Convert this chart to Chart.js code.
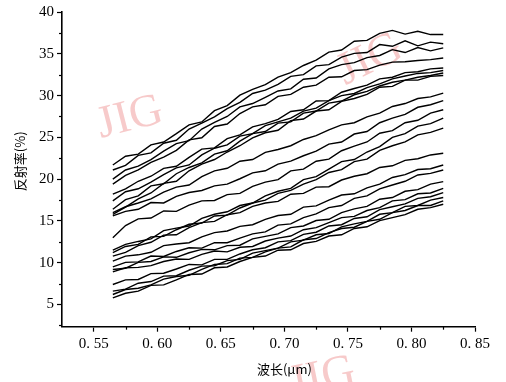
<!DOCTYPE html>
<html>
<head>
<meta charset="utf-8">
<script src="https://cdn.jsdelivr.net/npm/chart.js@4/dist/chart.umd.min.js"></script>
<style>
html,body{margin:0;padding:0;background:#fff;}
#wrap{width:506px;height:382px;}
</style>
</head>
<body>
<div id="wrap"><canvas id="c" width="506" height="382"></canvas></div>
<script>
const wavelengths = [0.565,0.575,0.585,0.595,0.605,0.615,0.625,0.635,0.645,0.655,0.665,0.675,0.685,0.695,0.705,0.715,0.725,0.735,0.745,0.755,0.765,0.775,0.785,0.795,0.805,0.815,0.825];
const xTicks = [0.55,0.60,0.65,0.70,0.75,0.80,0.85];
const yTicks = [5,10,15,20,25,30,35,40];

const s01 = [21.7,22.75,23.0,24.1,24.45,25.45,26.5,26.85,28.2,28.8,30.05,30.75,31.3,32.2,32.75,33.6,34.25,35.2,35.45,36.5,36.6,37.45,37.8,37.35,37.7,37.3,37.3];
const s02 = [21.1,21.65,22.85,23.15,24.3,24.65,26.0,26.7,27.45,28.45,29.2,30.25,30.65,31.35,32.3,32.5,33.55,33.7,34.6,35.05,35.15,36.1,35.9,36.55,35.95,36.4,36.2];
const s03 = [20.0,21.1,21.55,22.35,23.35,24.25,24.6,26.0,26.8,27.5,28.65,29.05,29.8,30.55,30.8,31.95,32.1,33.2,33.7,33.95,34.55,34.8,35.5,35.15,35.75,35.35,35.7];
const s04 = [19.4,20.45,21.1,22.0,22.65,23.45,24.7,24.95,26.3,26.6,27.85,28.65,28.9,29.9,30.15,31.0,31.25,32.2,32.25,33.0,33.1,33.65,34.0,34.05,34.2,34.3,34.5];
const s05 = [18.2,18.85,19.75,20.35,21.3,21.55,22.6,23.6,23.75,24.85,25.3,26.25,26.65,27.15,28.1,28.3,29.35,29.4,30.4,30.85,31.25,32.0,32.2,32.75,32.85,33.2,33.3];
const s06 = [17.4,18.5,18.85,19.65,20.55,21.35,21.7,22.9,23.7,24.1,25.15,25.45,26.4,26.85,27.3,28.15,28.5,29.4,30.0,30.25,30.95,31.4,32.0,32.35,32.65,32.75,33.0];
const s07 = [16.4,17.55,18.0,19.2,19.45,20.65,21.4,21.95,23.0,23.4,24.55,25.45,25.7,26.7,26.85,27.9,28.15,29.1,29.35,30.1,30.5,31.15,31.6,31.85,32.2,32.4,32.7];
const s08 = [15.8,16.65,17.65,18.35,19.5,19.75,21.0,21.8,22.35,23.25,24.0,24.95,25.55,25.85,27.0,27.2,28.15,28.3,29.3,29.65,30.15,31.0,31.1,31.85,31.85,32.3,32.4];
const s09 = [16.0,16.7,17.15,17.65,18.45,19.05,19.3,20.3,21.0,21.3,22.15,22.35,23.2,23.55,24.0,24.75,25.2,25.9,26.5,26.75,27.45,27.9,28.7,29.05,29.65,29.85,30.3];
const s10 = [15.6,16.15,16.4,17.2,17.15,17.95,18.4,18.65,19.2,19.4,20.05,20.75,21.0,21.8,22.15,22.8,23.35,24.2,24.45,25.4,25.7,26.75,27.3,27.75,28.6,28.9,29.4];
const s11 = [13.0,14.45,15.25,15.35,16.2,16.15,16.9,17.4,17.45,18.15,18.3,19.15,19.65,19.95,21.0,21.2,22.15,22.4,23.4,23.95,24.45,25.5,25.8,26.75,27.05,27.9,28.3];
const s12 = [11.5,12.2,12.55,12.85,13.85,14.15,14.4,15.3,15.8,16.1,16.85,17.15,18.0,18.55,18.9,19.95,20.3,21.2,22.1,22.35,23.25,23.9,25.0,25.45,26.35,26.65,27.3];
const s13 = [11.2,11.95,12.2,13.1,13.15,13.95,14.6,14.75,15.6,15.7,16.55,17.15,17.5,18.3,18.65,19.4,19.95,20.8,21.15,22.1,22.4,23.45,24.0,24.45,25.3,25.6,26.1];
const s14 = [10.8,11.25,12.05,12.45,13.3,13.35,14.2,14.8,14.95,15.75,16.0,16.75,17.15,17.35,18.2,18.3,19.05,19.1,19.9,20.35,20.65,21.4,21.6,22.25,22.45,22.9,23.1];
const s15 = [10.2,10.8,10.95,11.25,12.05,12.25,12.4,13.1,13.6,13.8,14.35,14.55,15.2,15.65,15.8,16.65,16.8,17.5,18.1,18.25,18.95,19.4,20.2,20.55,21.15,21.25,21.7];
const s16 = [9.5,10.05,10.1,10.8,10.75,11.35,11.8,11.75,12.4,12.4,12.95,13.45,13.7,14.5,14.65,15.4,15.85,16.6,16.85,17.7,18.0,18.85,19.3,19.75,20.5,20.7,21.1];
const s17 = [9.2,9.35,10.05,10.15,10.7,10.65,11.2,11.6,11.55,12.05,12.1,12.85,13.15,13.45,14.2,14.4,15.05,15.2,16.0,16.45,16.75,17.6,17.8,18.55,18.75,19.4,19.7];
const s18 = [8.9,9.4,9.45,9.65,10.15,10.45,10.4,11.0,11.4,11.3,11.85,11.95,12.6,12.95,13.2,13.95,14.2,14.8,15.4,15.55,16.25,16.6,17.4,17.55,18.25,18.35,18.9];
const s19 = [7.4,7.95,8.0,8.7,8.75,9.25,9.8,9.75,10.4,10.4,11.05,11.55,11.8,12.5,12.65,13.4,13.65,14.4,14.55,15.3,15.5,16.35,16.7,17.05,17.7,17.9,18.4];
const s20 = [6.6,6.85,7.55,7.75,8.4,8.45,9.1,9.6,9.65,10.25,10.4,11.15,11.45,11.75,12.5,12.7,13.35,13.5,14.3,14.65,14.95,15.8,16.0,16.75,16.85,17.5,17.8];
const s21 = [6.2,6.8,6.95,7.35,8.05,8.35,8.5,9.2,9.8,9.9,10.55,10.65,11.3,11.75,11.9,12.75,12.9,13.6,14.1,14.25,14.95,15.2,16.0,16.25,16.85,16.85,17.4];
const s22 = [5.8,6.35,6.6,7.3,7.35,7.95,8.6,8.65,9.4,9.5,10.15,10.65,10.8,11.5,11.55,12.3,12.55,13.2,13.35,14.1,14.3,15.05,15.4,15.75,16.4,16.6,17.0];

const allSeries = [s01,s02,s03,s04,s05,s06,s07,s08,s09,s10,s11,s12,s13,s14,s15,s16,s17,s18,s19,s20,s21,s22];

const xTitle = '波长(μm)';
const yTitle = '反射率(%)';
const watermark = 'JIG';

const datasets = allSeries.map(s => ({
  data: s.map((v, i) => ({x: wavelengths[i], y: v})),
  borderColor: '#000',
  borderWidth: 1.4,
  pointRadius: 0,
  fill: false,
  tension: 0
}));

const extras = {
  id: 'extras',
  beforeDatasetsDraw(chart) {
    const ctx = chart.ctx;
    ctx.save();
    ctx.fillStyle = 'rgba(240,150,150,0.5)';
    ctx.font = '46px "Liberation Serif"';
    ctx.textAlign = 'center';
    ctx.textBaseline = 'middle';
    const marks = [[130,118,-0.25],[370,60,-0.45],[322,378,-0.2]];
    marks.forEach(m => {
      ctx.save();
      ctx.translate(m[0], m[1]);
      ctx.rotate(m[2]);
      ctx.fillText(watermark, 0, 0);
      ctx.restore();
    });
    ctx.restore();
  },
  afterDraw(chart) {
    const ctx = chart.ctx;
    const xs = chart.scales.x, ys = chart.scales.y;
    ctx.save();
    ctx.strokeStyle = '#000';
    ctx.lineWidth = 1.2;
    for (let k = 0; k < xTicks.length - 1; k++) {
      const v = (xTicks[k] + xTicks[k+1]) / 2;
      const px = Math.round(xs.getPixelForValue(v)) + 0.5;
      ctx.beginPath(); ctx.moveTo(px, ys.bottom); ctx.lineTo(px, ys.bottom + 3); ctx.stroke();
    }
    const ymins = [2.5].concat(yTicks.slice(0, -1).map((v, k) => (v + yTicks[k+1]) / 2));
    ymins.forEach(v => {
      if (v < ys.min) return;
      const py = Math.round(ys.getPixelForValue(v)) + 0.5;
      ctx.beginPath(); ctx.moveTo(xs.left, py); ctx.lineTo(xs.left - 3, py); ctx.stroke();
    });
    ctx.fillStyle = '#000';
    ctx.font = '13px "Noto Sans CJK SC"';
    ctx.textAlign = 'center';
    ctx.textBaseline = 'middle';
    ctx.fillText(xTitle, xs.getPixelForValue(0.70), 369);
    ctx.save();
    ctx.translate(20, (ys.top + ys.bottom) / 2 - 8);
    ctx.rotate(-Math.PI / 2);
    ctx.fillText(yTitle, 0, 0);
    ctx.restore();
    ctx.restore();
  }
};

new Chart(document.getElementById('c'), {
  type: 'line',
  data: { datasets },
  options: {
    responsive: false,
    animation: false,
    devicePixelRatio: 1,
    layout: { padding: { top: 8, right: 31, bottom: 0, left: 0 } },
    plugins: { legend: { display: false }, tooltip: { enabled: false } },
    scales: {
      x: {
        type: 'linear',
        min: 0.525,
        max: 0.85,
        afterFit(scale) { scale.height = 55.3; },
        afterBuildTicks(scale) { scale.ticks = xTicks.map(v => ({value: v})); },
        ticks: {
          color: '#000',
          font: { family: '"Liberation Serif"', size: 15 },
          padding: 3,
          maxRotation: 0,
          autoSkip: false,
          callback: v => v.toFixed(2).replace('.', '. ')
        },
        grid: { drawOnChartArea: false, drawTicks: true, tickLength: 5, tickColor: '#000', tickWidth: 1.2 },
        border: { display: true, color: '#000', width: 1.6 }
      },
      y: {
        type: 'linear',
        min: 2.35,
        max: 40,
        afterFit(scale) { scale.width = 62; },
        afterBuildTicks(scale) { scale.ticks = yTicks.map(v => ({value: v})); },
        ticks: {
          color: '#000',
          font: { family: '"Liberation Serif"', size: 15 },
          padding: 3,
          autoSkip: false,
          callback: v => String(v)
        },
        grid: { drawOnChartArea: false, drawTicks: true, tickLength: 5, tickColor: '#000', tickWidth: 1.2 },
        border: { display: true, color: '#000', width: 1.6 }
      }
    }
  },
  plugins: [extras]
});
</script>
</body>
</html>
